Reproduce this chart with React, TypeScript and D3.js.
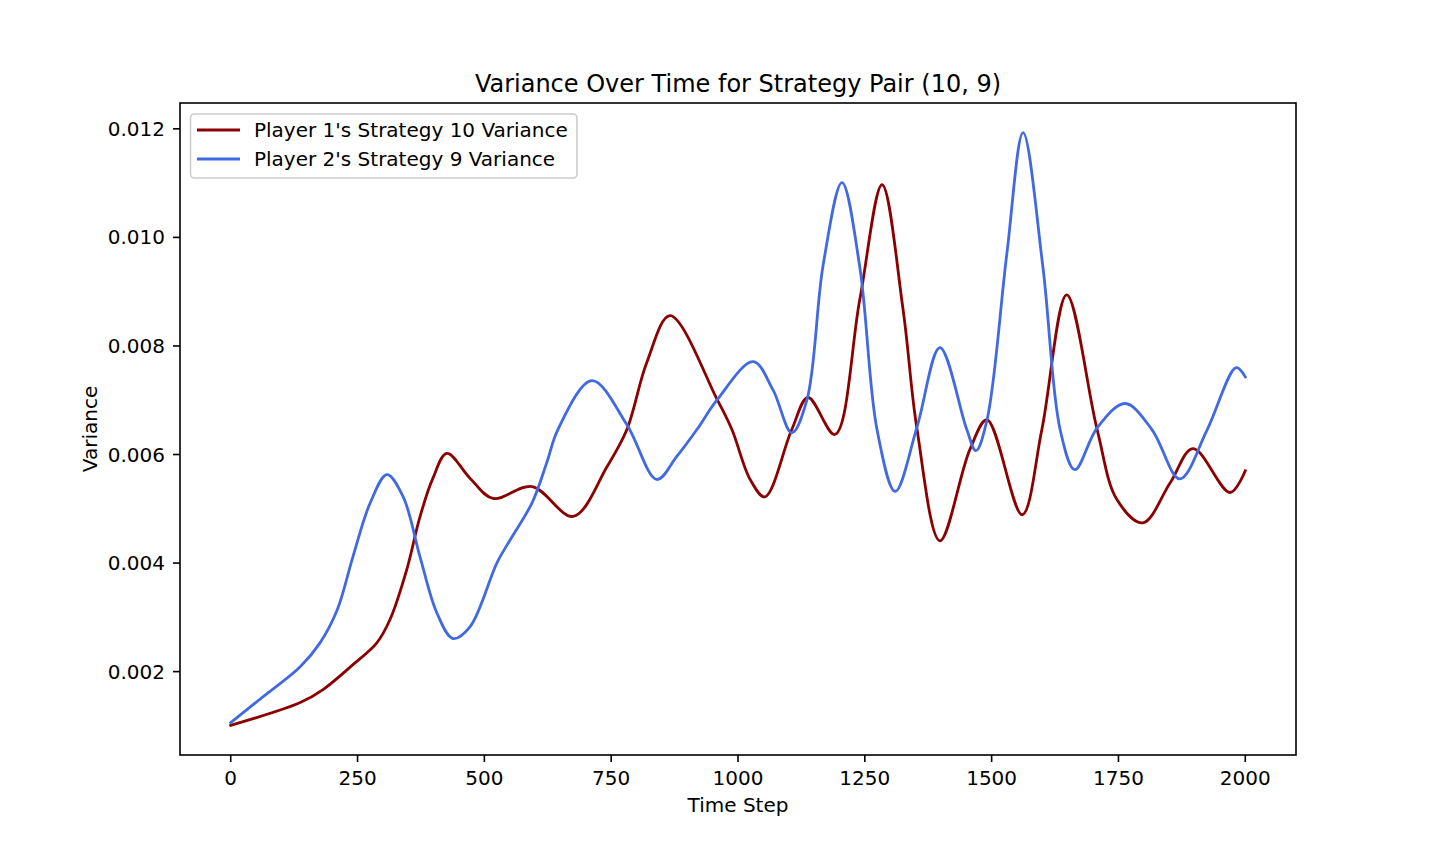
import React from 'react';
import * as d3 from 'd3';

const p1Steps = [0, 137, 182, 241, 288, 314, 347, 373, 398, 426, 472, 517, 594, 675, 742, 781, 820, 866, 959, 988, 1024, 1053, 1106, 1138, 1191, 1240, 1284, 1325, 1353, 1398, 1457, 1491, 1560, 1599, 1648, 1708, 1747, 1798, 1852, 1897, 1970, 2000];
const p1Variance = [0.00101, 0.00143, 0.00167, 0.00213, 0.00253, 0.00296, 0.00388, 0.00485, 0.00555, 0.00602, 0.00556, 0.00519, 0.00541, 0.00486, 0.00578, 0.00646, 0.00769, 0.00856, 0.00701, 0.00646, 0.00554, 0.00522, 0.00646, 0.00705, 0.00637, 0.00885, 0.01097, 0.0087, 0.00646, 0.00441, 0.00609, 0.00664, 0.00489, 0.00646, 0.00894, 0.00646, 0.00517, 0.00474, 0.00548, 0.00611, 0.0053, 0.0057];

const p2Steps = [0, 64, 137, 176, 210, 241, 275, 308, 340, 373, 406, 438, 472, 525, 551, 594, 623, 645, 712, 781, 840, 879, 919, 959, 1030, 1069, 1106, 1136, 1168, 1205, 1240, 1274, 1310, 1353, 1398, 1451, 1469, 1491, 1530, 1562, 1601, 1635, 1664, 1708, 1763, 1816, 1871, 1925, 1982, 2000];
const p2Variance = [0.00106, 0.00154, 0.00209, 0.00253, 0.00314, 0.00412, 0.00511, 0.00563, 0.00522, 0.00412, 0.00309, 0.00261, 0.00283, 0.00401, 0.00443, 0.00511, 0.00585, 0.00646, 0.00736, 0.00655, 0.00554, 0.00596, 0.00646, 0.00701, 0.00771, 0.00719, 0.0064, 0.00701, 0.0095, 0.01101, 0.00946, 0.00646, 0.00532, 0.00651, 0.00797, 0.00646, 0.00607, 0.00664, 0.0097, 0.01193, 0.00946, 0.00646, 0.00572, 0.00649, 0.00694, 0.00646, 0.00555, 0.00646, 0.0076, 0.00743];

const xTicks = [0, 250, 500, 750, 1000, 1250, 1500, 1750, 2000];
const yTicks = [0.002, 0.004, 0.006, 0.008, 0.01, 0.012];
const seriesLabels = ["Player 1's Strategy 10 Variance", "Player 2's Strategy 9 Variance"];
const seriesColors = ['#8B0000', '#4169E1'];
const titleText = 'Variance Over Time for Strategy Pair (10, 9)';
const xLabelText = 'Time Step';
const yLabelText = 'Variance';

export default function App() {
  const W = 1440;
  const H = 864;
  const L = 180, R = 1296, T = 103, B = 755;
  const font = 'DejaVu Sans, sans-serif';

  const x = d3.scaleLinear().domain([-100, 2100]).range([L, R]);
  const all = [...p1Variance, ...p2Variance];
  const lo = d3.min(all) as number;
  const hi = d3.max(all) as number;
  const pad = (hi - lo) * 0.05;
  const y = d3.scaleLinear().domain([lo - pad, hi + pad]).range([B, T]);

  const line = d3
    .line<[number, number]>()
    .x((d) => x(d[0]))
    .y((d) => y(d[1]))
    .curve(d3.curveCatmullRom.alpha(0.5));

  const series = [
    p1Steps.map((t, i) => [t, p1Variance[i]] as [number, number]),
    p2Steps.map((t, i) => [t, p2Variance[i]] as [number, number]),
  ];

  const fmtY = d3.format('.3f');

  return (
    <svg
      width={W}
      height={H}
      style={{ position: 'absolute', left: 0, top: 0, background: '#fff' }}
      fontFamily={font}
    >
      <rect x={0} y={0} width={W} height={H} fill="#fff" />
      {series.map((s, i) => (
        <path
          key={i}
          d={line(s) || ''}
          fill="none"
          stroke={seriesColors[i]}
          strokeWidth={2.8}
          strokeLinejoin="round"
          strokeLinecap="square"
        />
      ))}
      <rect x={L} y={T} width={R - L} height={B - T} fill="none" stroke="#000" strokeWidth={1.6} />
      {xTicks.map((t) => (
        <g key={'x' + t}>
          <line x1={x(t)} x2={x(t)} y1={B} y2={B + 7} stroke="#000" strokeWidth={1.6} />
          <text x={x(t)} y={785} textAnchor="middle" fontSize={20} fill="#000">
            {t}
          </text>
        </g>
      ))}
      {yTicks.map((v) => (
        <g key={'y' + v}>
          <line x1={L - 7} x2={L} y1={y(v)} y2={y(v)} stroke="#000" strokeWidth={1.6} />
          <text x={165} y={y(v) + 7} textAnchor="end" fontSize={20} fill="#000">
            {fmtY(v)}
          </text>
        </g>
      ))}
      <text x={(L + R) / 2} y={812} textAnchor="middle" fontSize={20} fill="#000">
        {xLabelText}
      </text>
      <text
        transform={`translate(97, ${(T + B) / 2}) rotate(-90)`}
        textAnchor="middle"
        fontSize={20}
        fill="#000"
      >
        {yLabelText}
      </text>
      <text x={(L + R) / 2} y={92} textAnchor="middle" fontSize={24} fill="#000">
        {titleText}
      </text>
      <g>
        <rect
          x={190.5}
          y={114}
          width={386.5}
          height={64}
          rx={4}
          ry={4}
          fill="#fff"
          fillOpacity={0.8}
          stroke="#cccccc"
          strokeWidth={1.6}
        />
        {seriesLabels.map((lab, i) => (
          <g key={lab}>
            <line
              x1={197}
              x2={240}
              y1={130 + i * 29}
              y2={130 + i * 29}
              stroke={seriesColors[i]}
              strokeWidth={2.8}
            />
            <text x={254} y={137 + i * 29} fontSize={20} fill="#000">
              {lab}
            </text>
          </g>
        ))}
      </g>
    </svg>
  );
}
